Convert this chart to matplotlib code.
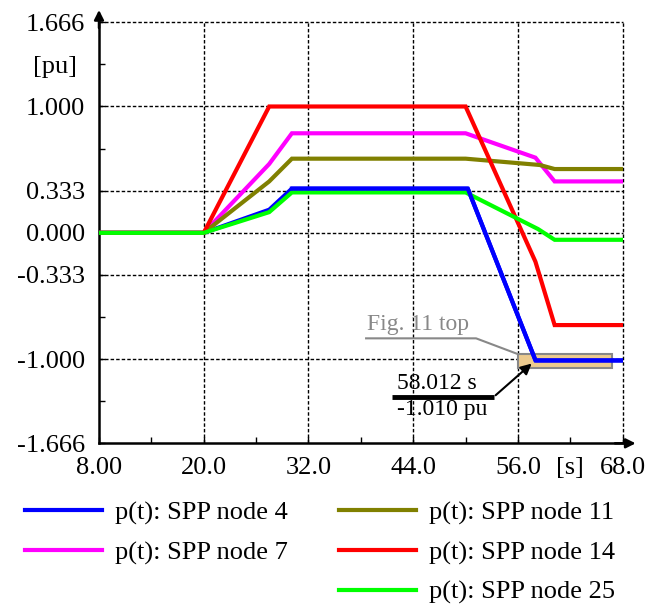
import matplotlib.pyplot as plt
import matplotlib.patches as patches
from matplotlib.lines import Line2D

plt.rcParams['font.family'] = ['Liberation Serif', 'DejaVu Serif']
plt.rcParams['font.size'] = 19

# 데이터
t_4 = [8.0, 20.0, 27.5, 30.1, 50.25, 58.012, 68.0]
p_4 = [0.0, 0.0, 0.183, 0.350, 0.350, -1.010, -1.010]
t_7 = [8.0, 20.0, 27.5, 30.1, 50.0, 58.0, 60.2, 68.0]
p_7 = [0.0, 0.0, 0.545, 0.788, 0.788, 0.595, 0.407, 0.407]
t_11 = [8.0, 20.0, 27.5, 30.1, 50.0, 58.5, 60.2, 68.0]
p_11 = [0.0, 0.0, 0.407, 0.587, 0.587, 0.537, 0.505, 0.505]
t_14 = [8.0, 20.0, 27.5, 50.0, 58.0, 60.2, 68.0]
p_14 = [0.0, 0.0, 1.0, 1.0, -0.228, -0.730, -0.730]
t_25 = [8.0, 20.0, 27.5, 30.1, 50.0, 58.3, 60.2, 68.0]
p_25 = [0.0, 0.0, 0.164, 0.320, 0.320, 0.030, -0.055, -0.055]

labels = ['p(t): SPP node 4', 'p(t): SPP node 7', 'p(t): SPP node 11',
          'p(t): SPP node 14', 'p(t): SPP node 25']
colors = ['#0000ff', '#ff00ff', '#808000', '#ff0000', '#00ff00']

x_ticks = [8, 20, 32, 44, 56, 68]
x_ticklabels = ['8.00', '20.0', '32.0', '44.0', '56.0', '68.0']
x_minor = [14, 26, 38, 50, 62]
x_minor_labels = ['', '', '', '', '[s]']
y_ticks = [1.666, 1.0, 0.333, 0.0, -0.333, -1.0, -1.666]
y_ticklabels = ['1.666', '1.000', '0.333', '0.000', '-0.333', '-1.000', '-1.666']
y_minor = [1.333, 0.667, -0.667, -1.333]
y_minor_labels = ['[pu]', '', '', '']

# 확대 구간 (Fig. 11 top)
zoom_t = (56.0, 66.75)
zoom_p = (-1.066, -0.96)

fig = plt.figure(figsize=(6.6, 6.04), dpi=100)
ax = fig.add_axes([0.15, 0.266, 0.7935, 0.697])
ax.set_xlim(8, 68)
ax.set_ylim(-1.666, 1.666)

# 격자
for xv in x_ticks[1:]:
    ax.axvline(xv, color='black', lw=1.0, ls=(0, (2.5, 1.5)), zorder=1, clip_on=False)
for yv in y_ticks[:-1]:
    ax.axhline(yv, color='black', lw=1.0, ls=(0, (2.5, 1.5)), zorder=1, clip_on=False)

# Fig. 11 top 상자
rect = patches.Rectangle((zoom_t[0], zoom_p[0]), zoom_t[1] - zoom_t[0], zoom_p[1] - zoom_p[0],
                         facecolor='#ecca8e', edgecolor='#888888', lw=1.5, zorder=2)
ax.add_patch(rect)

series = [(t_4, p_4), (t_7, p_7), (t_11, p_11), (t_14, p_14), (t_25, p_25)]
handles = []
for (t, p), c, lab in zip(series, colors, labels):
    h, = ax.plot(t, p, color=c, lw=3, label=lab, zorder=3, solid_joinstyle='miter')
    handles.append(h)
# 파란 선을 다시 위에
ax.plot(t_4[3:], p_4[3:], color=colors[0], lw=3, zorder=4)

# 축 설정
for s in ['top', 'right']:
    ax.spines[s].set_visible(False)
for s in ['left', 'bottom']:
    ax.spines[s].set_linewidth(1.8)
ax.set_xticks(x_ticks)
ax.set_xticklabels(x_ticklabels)
ax.set_xticks(x_minor, minor=True)
ax.set_xticklabels(x_minor_labels, minor=True)
ax.set_yticks(y_ticks)
ax.set_yticklabels(y_ticklabels)
ax.set_yticks(y_minor, minor=True)
ax.set_yticklabels(y_minor_labels, minor=True)
ax.tick_params(which='both', direction='in', length=4, width=1, pad=10, labelsize=19)
ax.tick_params(axis='y', which='minor', pad=16)

# 축 화살표
ax.annotate('', xy=(0, 1.036), xytext=(0, 0.98), xycoords='axes fraction',
            arrowprops=dict(arrowstyle='-|>', color='black', lw=1.8, mutation_scale=14))
ax.annotate('', xy=(1.03, 0), xytext=(0.98, 0), xycoords='axes fraction',
            arrowprops=dict(arrowstyle='-|>', color='black', lw=1.8, mutation_scale=14))

# Fig. 11 top 표시
ax.plot([38.6, 51.2, zoom_t[0]], [-0.835, -0.835, zoom_p[1]], color='#888888', lw=1.5, zorder=2)
ax.text(38.7, -0.81, 'Fig. 11 top', color='#888888', fontsize=17, va='bottom', ha='left')

# 58.012 s 표시
pt_t, pt_p = t_4[5], p_4[5]
ax.plot([41.6, 53.2], [-1.30, -1.30], color='black', lw=3.5, zorder=5, solid_capstyle='butt')
ax.annotate('', xy=(pt_t - 0.2, pt_p - 0.01), xytext=(53.2, -1.30),
            arrowprops=dict(arrowstyle='-|>', color='black', lw=1.5, mutation_scale=16),
            zorder=6)
ax.text(42.1, -1.275, f'{pt_t:.3f} s', fontsize=17, va='bottom', ha='left')
ax.text(42.1, -1.315, f'{pt_p:.3f} pu', fontsize=17, va='top', ha='left')

# 범례
blank = Line2D([], [], color='none')
leg = fig.legend([handles[0], handles[1], blank, handles[2], handles[3], handles[4]],
                 [labels[0], labels[1], '', labels[2], labels[3], labels[4]],
                 ncol=2, loc='upper left', bbox_to_anchor=(0.022, 0.188),
                 frameon=False, fontsize=19, handlelength=2.9, handletextpad=0.5,
                 columnspacing=1.95, labelspacing=0.6, borderaxespad=0)

fig.savefig('out.png', dpi=100)
